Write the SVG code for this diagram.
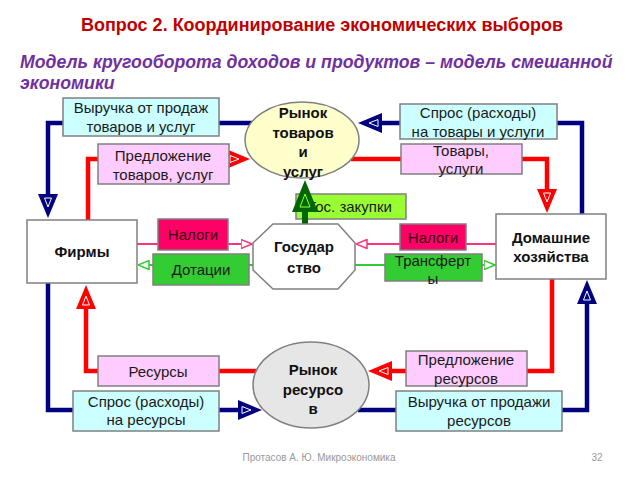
<svg xmlns="http://www.w3.org/2000/svg" width="640" height="480" viewBox="0 0 640 480">
<style>
text{font-family:"Liberation Sans",Arial,sans-serif;}
.t{font-size:15px;fill:#1a1a1a;text-anchor:middle;}
.b{font-size:15px;font-weight:bold;fill:#111;text-anchor:middle;}
.cy{fill:#ccffff;stroke:#808080;stroke-width:1.5;}
.pk{fill:#ffccff;stroke:#808080;stroke-width:1.5;}
.wh{fill:#ffffff;stroke:#808080;stroke-width:1.5;}
.tax{fill:#ff0066;stroke:#808080;stroke-width:1.5;}
.gr{fill:#33cc33;stroke:#808080;stroke-width:1.5;}
.lime{fill:#99ff33;stroke:#808080;stroke-width:1.5;}
.blue{fill:none;stroke:#000080;stroke-width:4.5;marker-end:url(#ab);}
.red{fill:none;stroke:#ff0000;stroke-width:4.5;marker-end:url(#ar);}
.pl{fill:none;stroke:#ff3377;stroke-width:2;marker-end:url(#ap);}
.gl{fill:none;stroke:#33cc33;stroke-width:2;marker-end:url(#ag);}
</style>
<defs>
<marker id="ab" viewBox="0 0 24 20" refX="1" refY="10" markerWidth="24" markerHeight="20" markerUnits="userSpaceOnUse" orient="auto">
<path d="M0,0 L24,10 L0,20 Z" fill="#000080"/><path d="M4,6.5 L13,10 L4,13.5 Z" fill="none" stroke="#ffffff" stroke-width="1"/>
</marker>
<marker id="ar" viewBox="0 0 24 20" refX="1" refY="10" markerWidth="24" markerHeight="20" markerUnits="userSpaceOnUse" orient="auto">
<path d="M0,0 L24,10 L0,20 Z" fill="#ff0000"/><path d="M4,6.5 L13,10 L4,13.5 Z" fill="none" stroke="#ffffff" stroke-width="1"/>
</marker>
<marker id="adg" viewBox="0 0 32 26" refX="1" refY="13" markerWidth="32" markerHeight="26" markerUnits="userSpaceOnUse" orient="auto">
<path d="M0,0 L32,13 L0,26 Z" fill="#006600"/><path d="M5,8 L18,13 L5,18 Z" fill="none" stroke="#99ff33" stroke-width="1"/>
</marker>
<marker id="ap" viewBox="0 0 12 10" refX="0.5" refY="5" markerWidth="12" markerHeight="10" markerUnits="userSpaceOnUse" orient="auto">
<path d="M0.5,0.5 L11.5,5 L0.5,9.5 Z" fill="#ffffff" stroke="#ff3377" stroke-width="1.5"/>
</marker>
<marker id="ag" viewBox="0 0 12 10" refX="0.5" refY="5" markerWidth="12" markerHeight="10" markerUnits="userSpaceOnUse" orient="auto">
<path d="M0.5,0.5 L11.5,5 L0.5,9.5 Z" fill="#ffffff" stroke="#33cc33" stroke-width="1.5"/>
</marker>
</defs>
<rect x="0" y="0" width="640" height="480" fill="#ffffff"/>
<text x="322" y="31" style="font-size:18px;font-weight:bold;fill:#c00000;text-anchor:middle;">Вопрос 2. Координирование экономических выборов</text>
<text x="20" y="68" style="font-size:17.7px;font-weight:bold;font-style:italic;fill:#7030a0;">Модель кругооборота доходов и продуктов – модель смешанной</text>
<text x="20" y="89" style="font-size:17.7px;font-weight:bold;font-style:italic;fill:#7030a0;">экономики</text>

<g id="gos-zakupki"><rect class="lime" x="296" y="194" width="110" height="25"/><text class="t" x="350" y="212">Гос. закупки</text></g>

<g id="connectors">
<path class="blue" d="M252,123 H48 V195"/>
<path class="blue" d="M582,214 V123 H381"/>
<path class="blue" d="M48,283 V410 H239"/>
<path class="blue" d="M358,410 H587 V303"/>
<path class="red" d="M88,220 V159 H227"/>
<path class="red" d="M351,159 H547 V190"/>
<path class="red" d="M552,279 V371 H391"/>
<path class="red" d="M256,371 H86 V308"/>
<path class="pl" d="M137,244 H241"/>
<path class="pl" d="M496,244 H367"/>
<path class="gl" d="M253,265 H149"/>
<path class="gl" d="M355,265 H484"/>
<path d="M305,224 V211" fill="none" stroke="#006600" stroke-width="6" marker-end="url(#adg)"/>
</g>

<g id="vyruchka-tovary"><rect class="cy" x="63" y="98" width="156" height="38"/><text class="t" x="141" y="113">Выручка от продаж</text><text class="t" x="141" y="132">товаров и услуг</text></g>
<g id="predlozhenie-tovarov"><rect class="pk" x="98" y="144" width="131" height="40"/><text class="t" x="163" y="161">Предложение</text><text class="t" x="163" y="180">товаров, услуг</text></g>
<g id="rynok-tovarov"><ellipse cx="302" cy="140" rx="57" ry="38" fill="#ffffcc" stroke="#808080" stroke-width="1.5"/><text class="b" x="303" y="118">Рынок</text><text class="b" x="303" y="138">товаров</text><text class="b" x="303" y="157">и</text><text class="b" x="303" y="177">услуг</text></g>
<g id="spros-tovary"><rect class="cy" x="400" y="104" width="157" height="35"/><text class="t" x="478" y="118">Спрос (расходы)</text><text class="t" x="478" y="137">на товары и услуги</text></g>
<g id="tovary-uslugi"><rect class="pk" x="401" y="144" width="121" height="30"/><text class="t" x="461" y="156">Товары,</text><text class="t" x="461" y="174">услуги</text></g>
<g id="firmy"><rect class="wh" x="27" y="220" width="110" height="63"/><text class="b" x="82" y="257">Фирмы</text></g>
<g id="nalogi-firmy"><rect class="tax" x="158" y="219" width="70" height="31"/><text class="t" x="193" y="240" style="fill:#330011">Налоги</text></g>
<g id="dotacii"><rect class="gr" x="153" y="254" width="96" height="31"/><text class="t" x="201" y="275">Дотации</text></g>
<g id="gosudarstvo"><polygon points="273,224 338,224 355,243 355,270 338,289 273,289 253,270 253,243" fill="#ffffff" stroke="#808080" stroke-width="1.5"/><text class="b" x="304" y="252">Государ</text><text class="b" x="304" y="273">ство</text></g>
<g id="nalogi-dh"><rect class="tax" x="400" y="224" width="66" height="26"/><text class="t" x="433" y="243" style="fill:#330011">Налоги</text></g>
<g id="transferty"><rect class="gr" x="385" y="254" width="97" height="27"/><text class="t" x="433" y="266">Трансферт</text><text class="t" x="433" y="284">ы</text></g>
<g id="domashnie"><rect class="wh" x="496" y="214" width="110" height="65"/><text class="b" x="551" y="243">Домашние</text><text class="b" x="551" y="262">хозяйства</text></g>
<g id="resursy"><rect class="pk" x="98" y="356" width="121" height="30"/><text class="t" x="158" y="377">Ресурсы</text></g>
<g id="spros-resursy"><rect class="cy" x="73" y="391" width="146" height="40"/><text class="t" x="146" y="407">Спрос (расходы)</text><text class="t" x="146" y="425">на ресурсы</text></g>
<g id="rynok-resursov"><ellipse cx="311" cy="385" rx="58" ry="43" fill="#e6e6e6" stroke="#808080" stroke-width="1.5"/><text class="b" x="313" y="375">Рынок</text><text class="b" x="313" y="395">ресурсо</text><text class="b" x="313" y="414">в</text></g>
<g id="predlozhenie-resursov"><rect class="pk" x="406" y="351" width="121" height="35"/><text class="t" x="466" y="365">Предложение</text><text class="t" x="466" y="384">ресурсов</text></g>
<g id="vyruchka-resursy"><rect class="cy" x="396" y="391" width="166" height="40"/><text class="t" x="479" y="407">Выручка от продажи</text><text class="t" x="479" y="426">ресурсов</text></g>

<text x="319" y="461" style="font-size:10px;fill:#999999;text-anchor:middle;">Протасов А. Ю. Микроэкономика</text>
<text x="597" y="461" style="font-size:10px;fill:#999999;text-anchor:middle;">32</text>
</svg>
